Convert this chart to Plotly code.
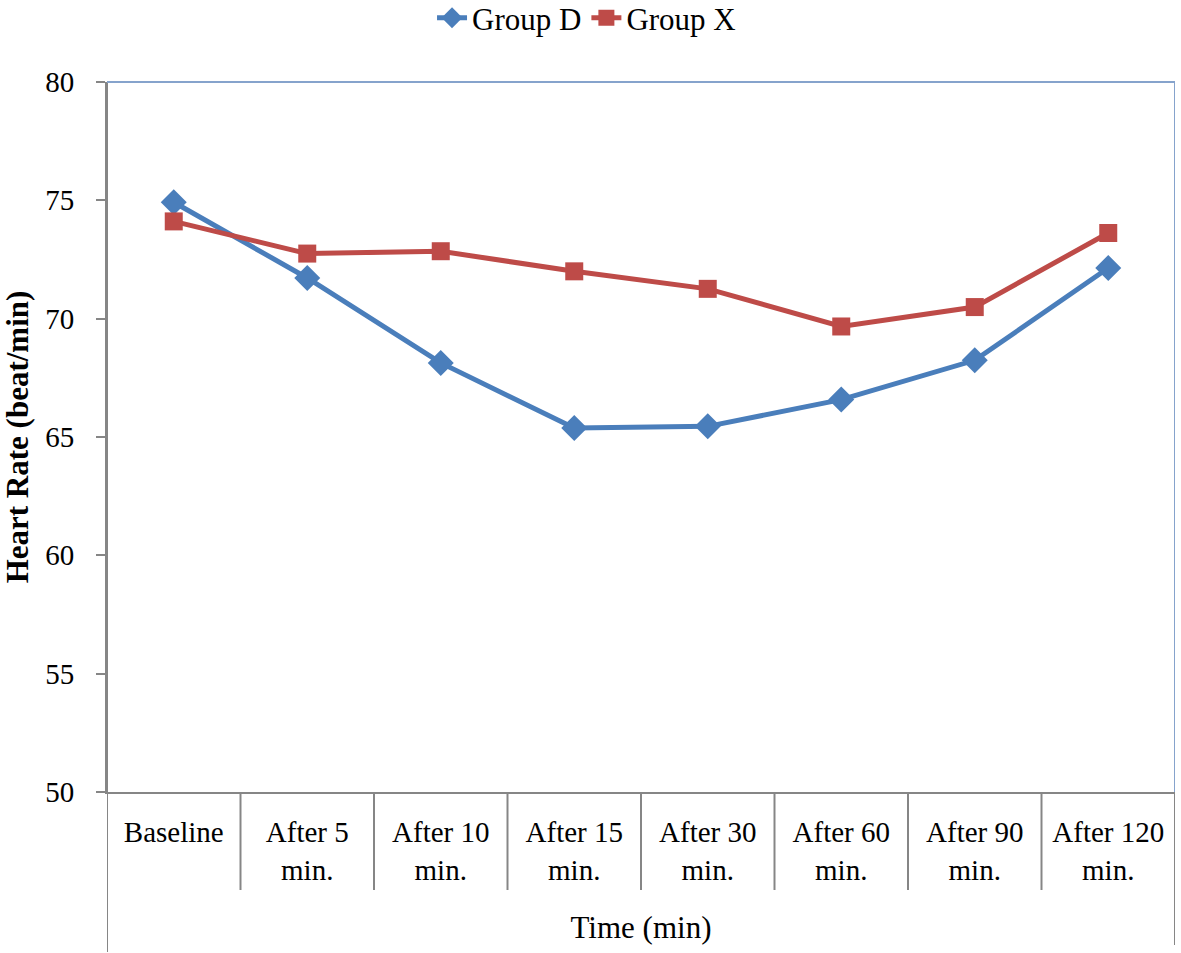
import plotly.graph_objects as go

categories = ["Baseline", "After 5<br>min.", "After 10<br>min.", "After 15<br>min.",
              "After 30<br>min.", "After 60<br>min.", "After 90<br>min.", "After 120<br>min."]
group_d = [74.92, 71.72, 68.13, 65.38, 65.45, 66.58, 68.24, 72.14]
group_x = [74.11, 72.75, 72.85, 72.0, 71.26, 69.67, 70.49, 73.62]
y_ticks = [50, 55, 60, 65, 70, 75, 80]

FONT = "Liberation Serif, Times New Roman, serif"
BLUE = "#4A7EBB"
RED = "#BE4B48"
GREY = "#868686"
FRAME = "#86A3CC"

fig = go.Figure()
fig.add_trace(go.Scatter(
    x=list(range(len(categories))), y=group_d, name="Group D", mode="lines+markers",
    line=dict(color=BLUE, width=5),
    marker=dict(symbol="diamond", size=20, color=BLUE),
))
fig.add_trace(go.Scatter(
    x=list(range(len(categories))), y=group_x, name="Group X", mode="lines+markers",
    line=dict(color=RED, width=5),
    marker=dict(symbol="square", size=18, color=RED),
))

n = len(categories)
PH = 710
# category dividers below x axis
for i in range(1, n):
    fig.add_shape(type="line", xref="x", yref="paper", x0=i - 0.5, x1=i - 0.5,
                  y0=0, y1=-98 / PH, line=dict(color=GREY, width=2), layer="above")
# left and right outer lines extending below plot
fig.add_shape(type="line", xref="x", yref="paper", x0=-0.5, x1=-0.5, y0=1, y1=-160 / PH,
              line=dict(color=GREY, width=2))
fig.add_shape(type="line", xref="x", yref="paper", x0=n - 0.5, x1=n - 0.5, y0=0, y1=-153 / PH,
              line=dict(color=GREY, width=2))
# top and right frame (blue)
fig.add_shape(type="line", xref="x", yref="paper", x0=-0.5, x1=n - 0.5, y0=1, y1=1,
              line=dict(color=FRAME, width=2))
fig.add_shape(type="line", xref="x", yref="paper", x0=n - 0.5, x1=n - 0.5, y0=1, y1=0,
              line=dict(color=FRAME, width=2))

fig.update_layout(
    width=1181, height=953,
    margin=dict(l=107, r=6, t=82, b=161, autoexpand=False),
    paper_bgcolor="white", plot_bgcolor="white",
    font=dict(family=FONT, size=29, color="black"),
    showlegend=True,
    legend=dict(orientation="h", x=0.449, xanchor="center", y=1.09, yanchor="middle",
                yref="paper",
                font=dict(family=FONT, size=31), itemwidth=30, tracegroupgap=0,
                bgcolor="rgba(0,0,0,0)"),
    xaxis=dict(
        tickmode="array", tickvals=list(range(n)), ticktext=categories,
        range=[-0.5, n - 0.5], showgrid=False, zeroline=False, automargin=False,
        showline=True, linecolor=GREY, linewidth=2, ticks="",
        tickfont=dict(family=FONT, size=29), ticklabelstandoff=13,
        title=dict(text="Time (min)", font=dict(family=FONT, size=31), standoff=32),
    ),
    yaxis=dict(
        range=[50, 80], tickvals=y_ticks, showgrid=False, zeroline=False, automargin=False,
        showline=True, linecolor=GREY, linewidth=2, ticks="outside", ticklen=9,
        tickcolor=GREY, tickwidth=2, tickfont=dict(family=FONT, size=29),
        ticklabelstandoff=16,
        title=dict(text="<b>Heart Rate (beat/min)</b>", font=dict(family=FONT, size=31),
                   standoff=14),
    ),
)

fig.write_html("out.html", config={"displayModeBar": False},
               post_script="document.body.style.margin='0';document.body.style.overflow='hidden';")
